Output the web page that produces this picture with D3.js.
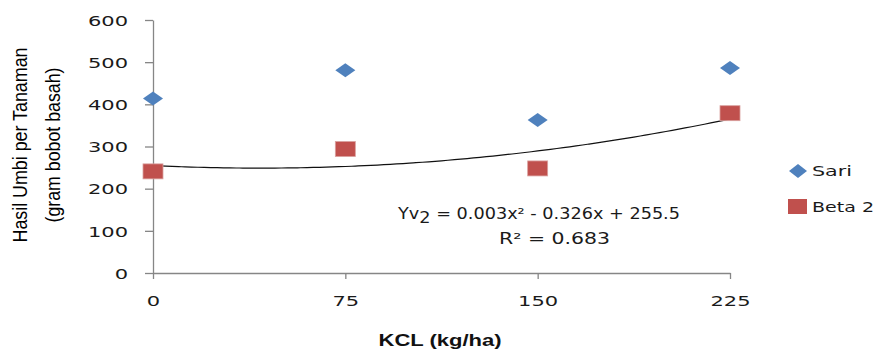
<!DOCTYPE html>
<html>
<head>
<meta charset="utf-8">
<script src="https://cdn.jsdelivr.net/npm/d3@7"></script>
<style>
  body { margin: 0; background: #fff; }
  svg { display: block; }
</style>
</head>
<body>
<div id="chart"></div>
<script>
// data
const kclDoses = [0, 75, 150, 225];
const sariValues = [414, 481, 363, 486];
const beta2Values = [241, 294, 248, 379];
const yTicks = [0, 100, 200, 300, 400, 500, 600];
const xTicks = [0, 75, 150, 225];
const seriesNames = ['Sari', 'Beta 2'];

const width = 878;
const height = 352;
const blue = '#4f81bd';
const red = '#c0504d';
const axisGrey = '#868686';
const font = 'DejaVu Sans, Verdana, sans-serif';
const stretch = 1.45;

const svg = d3.select('#chart')
  .append('svg')
  .attr('width', width)
  .attr('height', height);

const x = d3.scaleLinear().domain([0, 225]).range([153, 730]);
const y = d3.scaleLinear().domain([0, 600]).range([273, 20]);

// axes
const yAxis = svg.append('g')
  .attr('transform', `translate(${x(0)},0)`)
  .call(d3.axisLeft(y).tickValues(yTicks).tickSize(8).tickSizeOuter(0).tickFormat(d => d));
yAxis.select('.domain').attr('stroke', axisGrey).attr('stroke-width', 1.3);
yAxis.selectAll('.tick line').attr('stroke', axisGrey).attr('stroke-width', 1.3);
yAxis.selectAll('.tick text')
  .attr('x', -25 / stretch)
  .attr('dy', '0.36em')
  .attr('transform', `scale(${stretch},1)`)
  .style('font-family', font)
  .style('font-size', '14.5px')
  .attr('fill', '#1a1a1a');

const xAxis = svg.append('g')
  .attr('transform', `translate(0,${y(0)})`)
  .call(d3.axisBottom(x).tickValues(xTicks).tickSize(6).tickSizeOuter(0).tickFormat(d => d));
xAxis.select('.domain').attr('stroke', axisGrey).attr('stroke-width', 1.3);
xAxis.selectAll('.tick line').attr('stroke', axisGrey).attr('stroke-width', 1.3);
xAxis.selectAll('.tick text')
  .attr('x', 0)
  .attr('y', 33)
  .attr('dy', 0)
  .attr('transform', `scale(${stretch},1)`)
  .style('font-family', font)
  .style('font-size', '14.5px')
  .attr('fill', '#1a1a1a');

// quadratic least-squares trendline for Beta 2
function quadFit(xs, ys) {
  const s = k => d3.sum(xs, v => Math.pow(v, k));
  const sy = k => d3.sum(xs, (v, i) => Math.pow(v, k) * ys[i]);
  const A = [
    [xs.length, s(1), s(2), sy(0)],
    [s(1), s(2), s(3), sy(1)],
    [s(2), s(3), s(4), sy(2)],
  ];
  for (let i = 0; i < 3; i++) {
    for (let j = i + 1; j < 3; j++) {
      const f = A[j][i] / A[i][i];
      for (let k = i; k < 4; k++) A[j][k] -= f * A[i][k];
    }
  }
  const c = [0, 0, 0];
  for (let i = 2; i >= 0; i--) {
    let v = A[i][3];
    for (let k = i + 1; k < 3; k++) v -= A[i][k] * c[k];
    c[i] = v / A[i][i];
  }
  return c;
}
const coef = quadFit(kclDoses, beta2Values);
const trendPts = d3.range(0, 225.01, 2.5).map(v => [v, coef[0] + coef[1] * v + coef[2] * v * v]);
svg.append('path')
  .datum(trendPts)
  .attr('fill', 'none')
  .attr('stroke', '#111')
  .attr('stroke-width', 1.2)
  .attr('d', d3.line().x(d => x(d[0])).y(d => y(d[1])).curve(d3.curveMonotoneX));

// markers
const diamond = 'M0,-7 L10,0 L0,7 L-10,0 Z';
svg.append('g')
  .selectAll('path')
  .data(kclDoses.map((d, i) => [d, sariValues[i]]))
  .join('path')
  .attr('d', diamond)
  .attr('fill', blue)
  .attr('transform', d => `translate(${x(d[0])},${y(d[1])})`);

svg.append('g')
  .selectAll('rect')
  .data(kclDoses.map((d, i) => [d, beta2Values[i]]))
  .join('rect')
  .attr('x', d => x(d[0]) - 10)
  .attr('y', d => y(d[1]) - 7.5)
  .attr('width', 20)
  .attr('height', 15)
  .attr('fill', red)
  .attr('stroke', '#d9a19f')
  .attr('stroke-width', 0.8);

// equation and R²
const eq = svg.append('text')
  .attr('x', 398)
  .attr('y', 219)
  .attr('textLength', 282)
  .attr('lengthAdjust', 'spacingAndGlyphs')
  .style('font-family', font)
  .style('font-size', '15.5px')
  .attr('fill', '#1a1a1a');
eq.append('tspan').text('Yv');
eq.append('tspan').attr('dy', 4).text('2');
eq.append('tspan').attr('dy', -4).text(' = 0.003x² - 0.326x + 255.5');

svg.append('text')
  .attr('x', 499)
  .attr('y', 244)
  .attr('textLength', 111)
  .attr('lengthAdjust', 'spacingAndGlyphs')
  .style('font-family', font)
  .style('font-size', '15.5px')
  .attr('fill', '#1a1a1a')
  .text('R² = 0.683');

// legend
const legend = svg.append('g');
legend.append('path')
  .attr('d', 'M0,-7 L9,0 L0,7 L-9,0 Z')
  .attr('fill', blue)
  .attr('transform', 'translate(798,171)');
legend.append('rect')
  .attr('x', 788).attr('y', 199)
  .attr('width', 19).attr('height', 15)
  .attr('fill', red);
legend.selectAll('text')
  .data(seriesNames)
  .join('text')
  .attr('x', 812)
  .attr('y', (d, i) => 176 + i * 36)
  .attr('textLength', d => d === 'Sari' ? 40 : 62)
  .attr('lengthAdjust', 'spacingAndGlyphs')
  .style('font-family', font)
  .style('font-size', '14.5px')
  .attr('fill', '#1a1a1a')
  .text(d => d);

// axis titles
svg.append('text')
  .attr('x', 440)
  .attr('y', 346)
  .attr('text-anchor', 'middle')
  .attr('textLength', 123)
  .attr('lengthAdjust', 'spacingAndGlyphs')
  .style('font-family', 'Liberation Sans, Arial, sans-serif')
  .style('font-weight', 'bold')
  .style('font-size', '16px')
  .attr('fill', '#111')
  .text('KCL (kg/ha)');

const yTitle = svg.append('g').attr('transform', 'rotate(-90)');
yTitle.append('text')
  .attr('x', -145)
  .attr('y', 27)
  .attr('text-anchor', 'middle')
  .attr('textLength', 195)
  .attr('lengthAdjust', 'spacingAndGlyphs')
  .style('font-family', 'Liberation Sans Narrow, Liberation Sans, Arial, sans-serif')
  .style('font-size', '21px')
  .attr('fill', '#000')
  .text('Hasil Umbi per Tanaman');
yTitle.append('text')
  .attr('x', -145)
  .attr('y', 60)
  .attr('text-anchor', 'middle')
  .attr('textLength', 155)
  .attr('lengthAdjust', 'spacingAndGlyphs')
  .style('font-family', 'Liberation Sans Narrow, Liberation Sans, Arial, sans-serif')
  .style('font-size', '21px')
  .attr('fill', '#000')
  .text('(gram bobot basah)');
</script>
</body>
</html>
